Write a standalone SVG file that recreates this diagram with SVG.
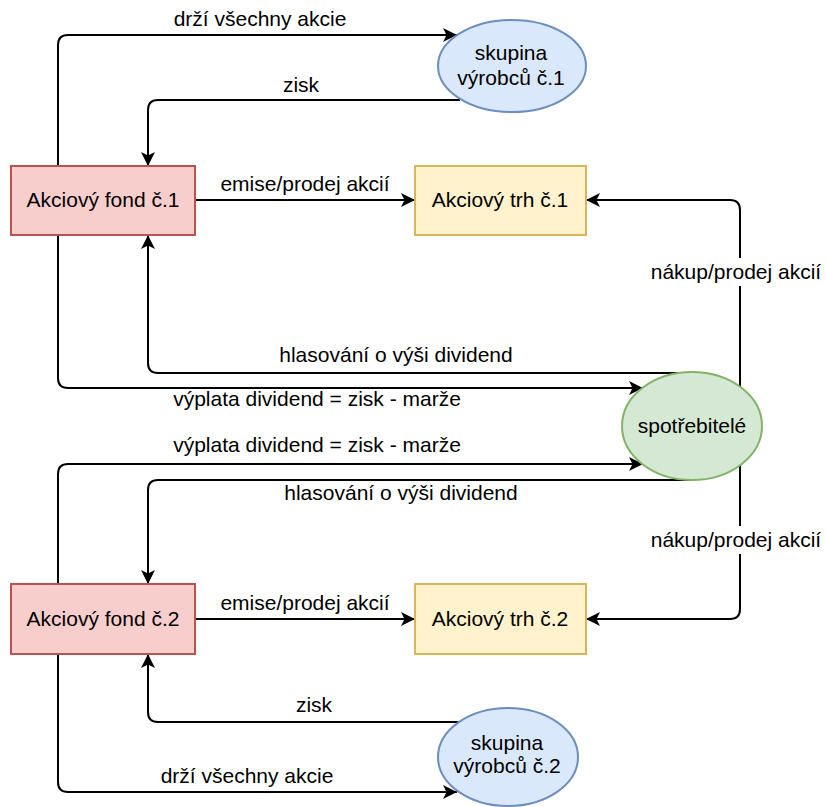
<svg xmlns="http://www.w3.org/2000/svg" width="826" height="807" viewBox="0 0 826 807">
<style>
text{font-family:"Liberation Sans",Arial,sans-serif;font-size:21px;fill:#000;text-anchor:middle}
.fond{fill:#f8cecc;stroke:#b85450;stroke-width:2}
.trh{fill:#fff2cc;stroke:#d6b656;stroke-width:2}
.sk{fill:#dae8fc;stroke:#6c8ebf;stroke-width:2}
.sp{fill:#d5e8d4;stroke:#82b366;stroke-width:2}
.e{fill:none;stroke:#000;stroke-width:2;marker-end:url(#arr)}
</style>
<defs>
<marker id="arr" markerUnits="userSpaceOnUse" markerWidth="16" markerHeight="16" refX="14" refY="7" orient="auto" viewBox="0 0 16 14">
<path d="M0,0 L14,7 L0,14 L3.5,7 Z" fill="#000"/>
</marker>
</defs>
<rect width="826" height="807" fill="#fff"/>
<g id="connectors">
<path class="e" d="M58,166 V45 Q58,35 68,35 H457"/>
<path class="e" d="M460,100 H158 Q148,100 148,110 V166"/>
<path class="e" d="M195,200 H415"/>
<path class="e" d="M740,426 V210 Q740,200 730,200 H586"/>
<path class="e" d="M692,373 H158 Q148,373 148,363 V235"/>
<path class="e" d="M58,235 V378 Q58,388 68,388 H643"/>
<path class="e" d="M58,584 V474 Q58,464 68,464 H643"/>
<path class="e" d="M692,480 H158 Q148,480 148,490 V584"/>
<path class="e" d="M740,426 V609 Q740,619 730,619 H586"/>
<path class="e" d="M195,619 H415"/>
<path class="e" d="M459,722 H158 Q148,722 148,712 V654"/>
<path class="e" d="M58,654 V782 Q58,792 68,792 H457"/>
<text x="260" y="26">drží všechny akcie</text>
<text x="301" y="92">zisk</text>
<text x="305" y="191">emise/prodej akcií</text>
<rect x="646" y="258" width="180" height="28" fill="#fff"/>
<text x="736" y="279">nákup/prodej akcií</text>
<text x="396" y="362">hlasování o výši dividend</text>
<text x="317" y="406">výplata dividend = zisk - marže</text>
<text x="317" y="452">výplata dividend = zisk - marže</text>
<text x="401" y="500">hlasování o výši dividend</text>
<rect x="646" y="526" width="180" height="28" fill="#fff"/>
<text x="736" y="547">nákup/prodej akcií</text>
<text x="305" y="610">emise/prodej akcií</text>
<text x="314" y="712">zisk</text>
<text x="247" y="783">drží všechny akcie</text>
</g>
<g id="fond1"><rect class="fond" x="11" y="166" width="184" height="69"/><text x="103" y="207">Akciový fond č.1</text></g>
<g id="trh1"><rect class="trh" x="415" y="166" width="171" height="69"/><text x="500" y="207">Akciový trh č.1</text></g>
<g id="skupina1"><ellipse class="sk" cx="512" cy="66" rx="74" ry="46"/><text x="511" y="60">skupina</text><text x="511" y="85">výrobců č.1</text></g>
<g id="spotrebitele"><ellipse class="sp" cx="692" cy="426" rx="70" ry="54"/><text x="692" y="433">spotřebitelé</text></g>
<g id="fond2"><rect class="fond" x="11" y="584" width="184" height="70"/><text x="103" y="626">Akciový fond č.2</text></g>
<g id="trh2"><rect class="trh" x="415" y="584" width="171" height="70"/><text x="500" y="626">Akciový trh č.2</text></g>
<g id="skupina2"><ellipse class="sk" cx="508" cy="757" rx="70" ry="49"/><text x="507" y="750">skupina</text><text x="507" y="773">výrobců č.2</text></g>
</svg>
